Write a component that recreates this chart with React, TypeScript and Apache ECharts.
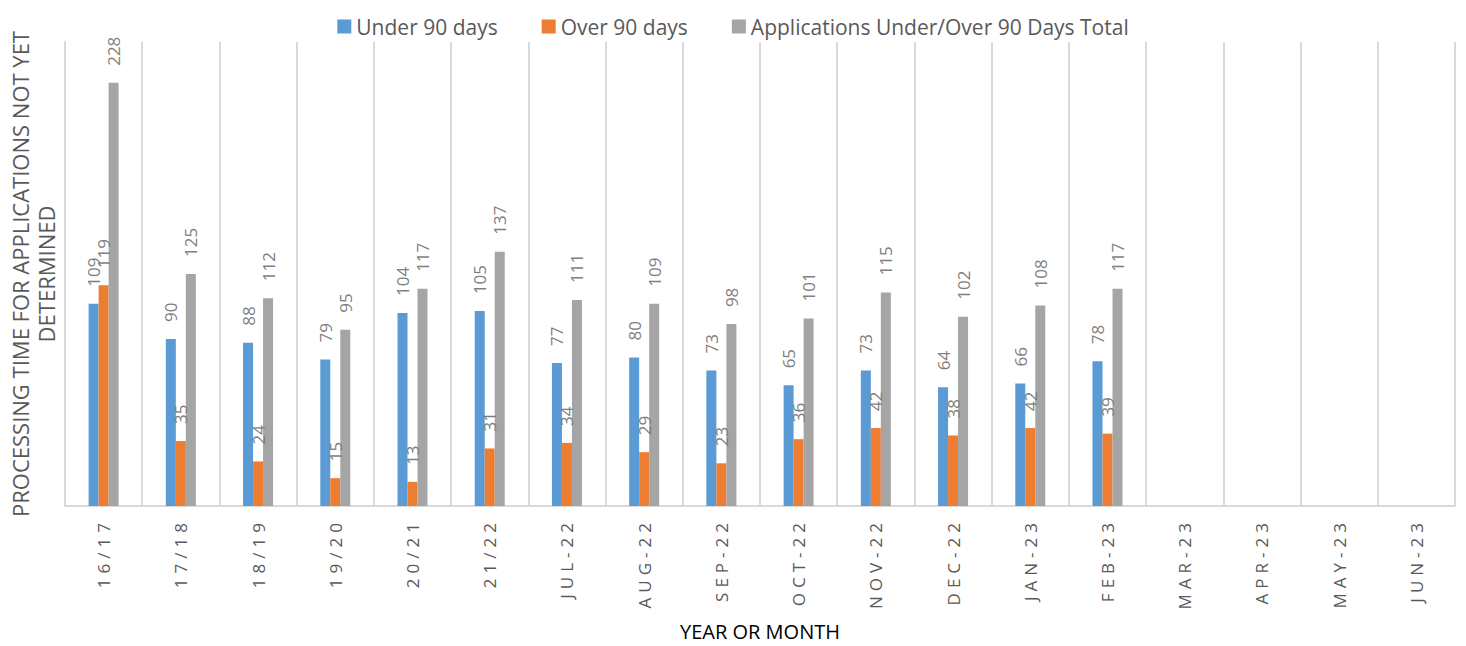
import React, { useEffect, useRef } from "react";
import * as echarts from "echarts";

const categories = ["16/17", "17/18", "18/19", "19/20", "20/21", "21/22", "JUL-22", "AUG-22", "SEP-22", "OCT-22", "NOV-22", "DEC-22", "JAN-23", "FEB-23", "MAR-23", "APR-23", "MAY-23", "JUN-23"];
const under90 = [109, 90, 88, 79, 104, 105, 77, 80, 73, 65, 73, 64, 66, 78, null, null, null, null];
const over90 = [119, 35, 24, 15, 13, 31, 34, 29, 23, 36, 42, 38, 42, 39, null, null, null, null];
const total = [228, 125, 112, 95, 117, 137, 111, 109, 98, 101, 115, 102, 108, 117, null, null, null, null];

const FONT = "'Open Sans', 'Noto Sans', sans-serif";

export default function App() {
  const ref = useRef<HTMLDivElement>(null);
  useEffect(() => {
    if (!ref.current) return;
    const chart = echarts.init(ref.current, null, { renderer: "svg" });
    const label = {
      show: true,
      position: "top" as const,
      rotate: 90,
      align: "left" as const,
      verticalAlign: "middle" as const,
      distance: 17,
      color: "#7f7f7f",
      fontSize: 17,
      fontFamily: FONT,
    };
    const mk = (name: string, data: (number | null)[], color: string) => ({
      name,
      type: "bar" as const,
      data,
      barWidth: 10,
      barGap: "0%",
      itemStyle: { color },
      label,
    });
    chart.setOption({
      animation: false,
      textStyle: { fontFamily: FONT },
      legend: {
        top: 11,
        left: "center",
        itemWidth: 14,
        itemHeight: 14,
        itemGap: 44,
        icon: "rect",
        textStyle: { color: "#595959", fontSize: 21, fontFamily: FONT },
        data: ["Under 90 days", "Over 90 days", "Applications Under/Over 90 Days Total"],
      },
      grid: { left: 65, right: 11, top: 42, bottom: 140, outerBoundsMode: "none", containLabel: false },
      xAxis: {
        type: "category",
        data: categories,
        name: "YEAR OR MONTH",
        nameLocation: "middle",
        nameGap: 125,
        nameTextStyle: { color: "#000", fontSize: 20, fontFamily: FONT, verticalAlign: "middle" },
        axisLine: { show: true, lineStyle: { color: "#d9d9d9", width: 2 } },
        axisTick: { show: false },
        splitLine: { show: true, lineStyle: { color: "#d9d9d9", width: 2 } },
        axisLabel: { rotate: 90, margin: 12, color: "#595959", fontSize: 17, fontFamily: FONT, interval: 0 },
      },
      yAxis: {
        type: "value",
        min: 0,
        max: 250,
        name: "PROCESSING TIME FOR APPLICATIONS NOT YET\nDETERMINED",
        nameLocation: "middle",
        nameRotate: 90,
        nameGap: 6,
        nameTextStyle: { color: "#595959", fontSize: 22, fontFamily: FONT, lineHeight: 26 },
        axisLabel: { show: false },
        axisTick: { show: false },
        axisLine: { show: true, lineStyle: { color: "#d9d9d9", width: 2 } },
        splitLine: { show: false },
      },
      series: [
        mk("Under 90 days", under90, "#5b9bd5"),
        mk("Over 90 days", over90, "#ed7d31"),
        mk("Applications Under/Over 90 Days Total", total, "#a5a5a5"),
      ],
    });
    const applySpacing = () => {
      const texts = ref.current?.querySelectorAll("text") ?? [];
      texts.forEach((t) => {
        if (categories.includes((t.textContent || "").trim())) {
          (t as SVGTextElement).style.letterSpacing = "5px";
        }
      });
    };
    applySpacing();
    chart.on("finished", applySpacing);
    return () => chart.dispose();
  }, []);
  return <div ref={ref} style={{ position: "absolute", left: 0, top: 0, width: 1466, height: 646 }} />;
}
